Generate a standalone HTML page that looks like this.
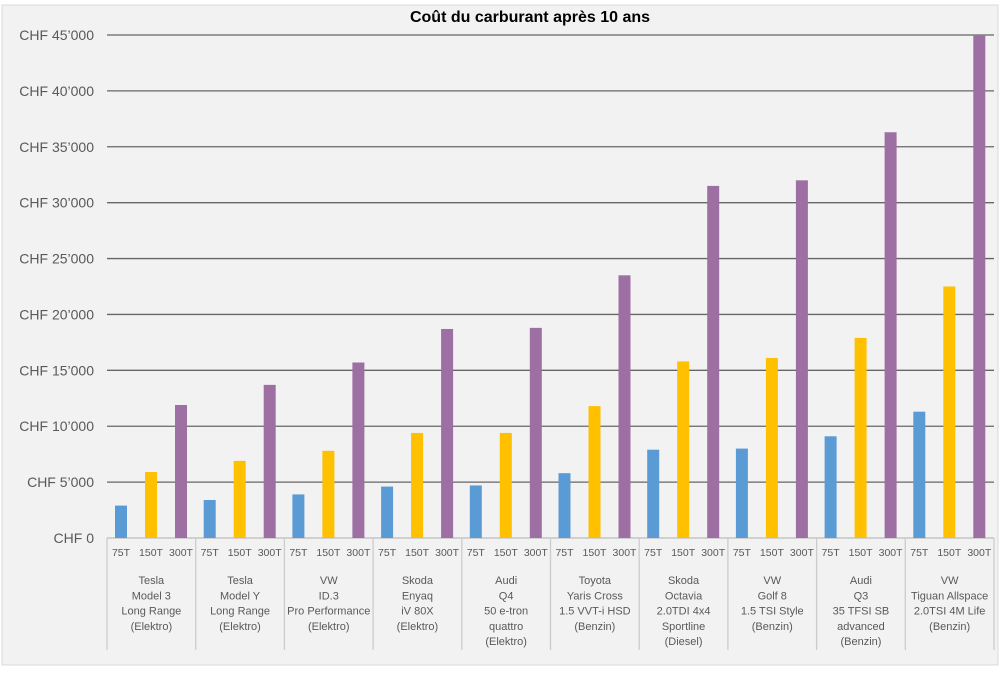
<!DOCTYPE html>
<html><head><style>
body{margin:0;width:1000px;height:671px;background:#fff;overflow:hidden}
</style></head><body>
<svg width="1000" height="671" xmlns="http://www.w3.org/2000/svg" font-family="'Liberation Sans', sans-serif">
<rect x="2" y="5" width="996" height="660" fill="#f2f2f2" stroke="#d9d9d9"/>
<text x="530" y="22" text-anchor="middle" font-size="16" font-weight="bold" fill="#000">Coût du carburant après 10 ans</text>
<g id="grid" stroke="#666" stroke-width="1.3"></g>
<g id="bars"></g>
<g id="lab" fill="#595959"></g>
</svg>
<script>
const ns="http://www.w3.org/2000/svg";
function el(t,a,p,txt){const e=document.createElementNS(ns,t);for(const k in a)e.setAttribute(k,a[k]);if(txt!=null)e.textContent=txt;document.getElementById(p).appendChild(e);return e;}
const y0=538,h=503,max=45000,x0=107,gw=88.7;
for(let v=0;v<=45000;v+=5000){const y=y0-v/max*h;
 if(v>0)el('line',{x1:x0,x2:994,y1:y,y2:y},'grid');
 el('text',{x:94,y:y+5,'text-anchor':'end','font-size':14},'lab',v==0?'CHF 0':'CHF '+(v/1000)+'’000');}
el('line',{x1:x0,x2:994,y1:y0,y2:y0,stroke:'#bbb'},'grid');
const data=[[2900,5900,11900],[3400,6900,13700],[3900,7800,15700],[4600,9400,18700],[4700,9400,18800],[5800,11800,23500],[7900,15800,31500],[8000,16100,32000],[9100,17900,36300],[11300,22500,45000]];
const names=[["Tesla","Model 3","Long Range","(Elektro)"],["Tesla","Model Y","Long Range","(Elektro)"],["VW","ID.3","Pro Performance","(Elektro)"],["Skoda","Enyaq","iV 80X","(Elektro)"],["Audi","Q4","50 e-tron","quattro","(Elektro)"],["Toyota","Yaris Cross","1.5 VVT-i HSD","(Benzin)"],["Skoda","Octavia","2.0TDI 4x4","Sportline","(Diesel)"],["VW","Golf 8","1.5 TSI Style","(Benzin)"],["Audi","Q3","35 TFSI SB","advanced","(Benzin)"],["VW","Tiguan Allspace","2.0TSI 4M Life","(Benzin)"]];
const cols=['#5b9bd5','#ffc000','#9e6fa3'],tl=['75T','150T','300T'];
data.forEach((d,g)=>{const gx=x0+g*gw;
 el('line',{x1:gx,x2:gx,y1:y0,y2:650,stroke:'#ccc'},'grid');
 d.forEach((v,i)=>{const cx=gx+14+i*30,bh=v/max*h;
  el('rect',{x:cx-6,y:y0-bh,width:12,height:bh,fill:cols[i]},'bars');
  el('text',{x:cx,y:556,'text-anchor':'middle','font-size':10.5},'lab',tl[i]);});
 names[g].forEach((n,j)=>el('text',{x:gx+gw/2,y:584+j*15.3,'text-anchor':'middle','font-size':11},'lab',n));
});
el('line',{x1:994,x2:994,y1:y0,y2:650,stroke:'#ccc'},'grid');
</script>
</body></html>
